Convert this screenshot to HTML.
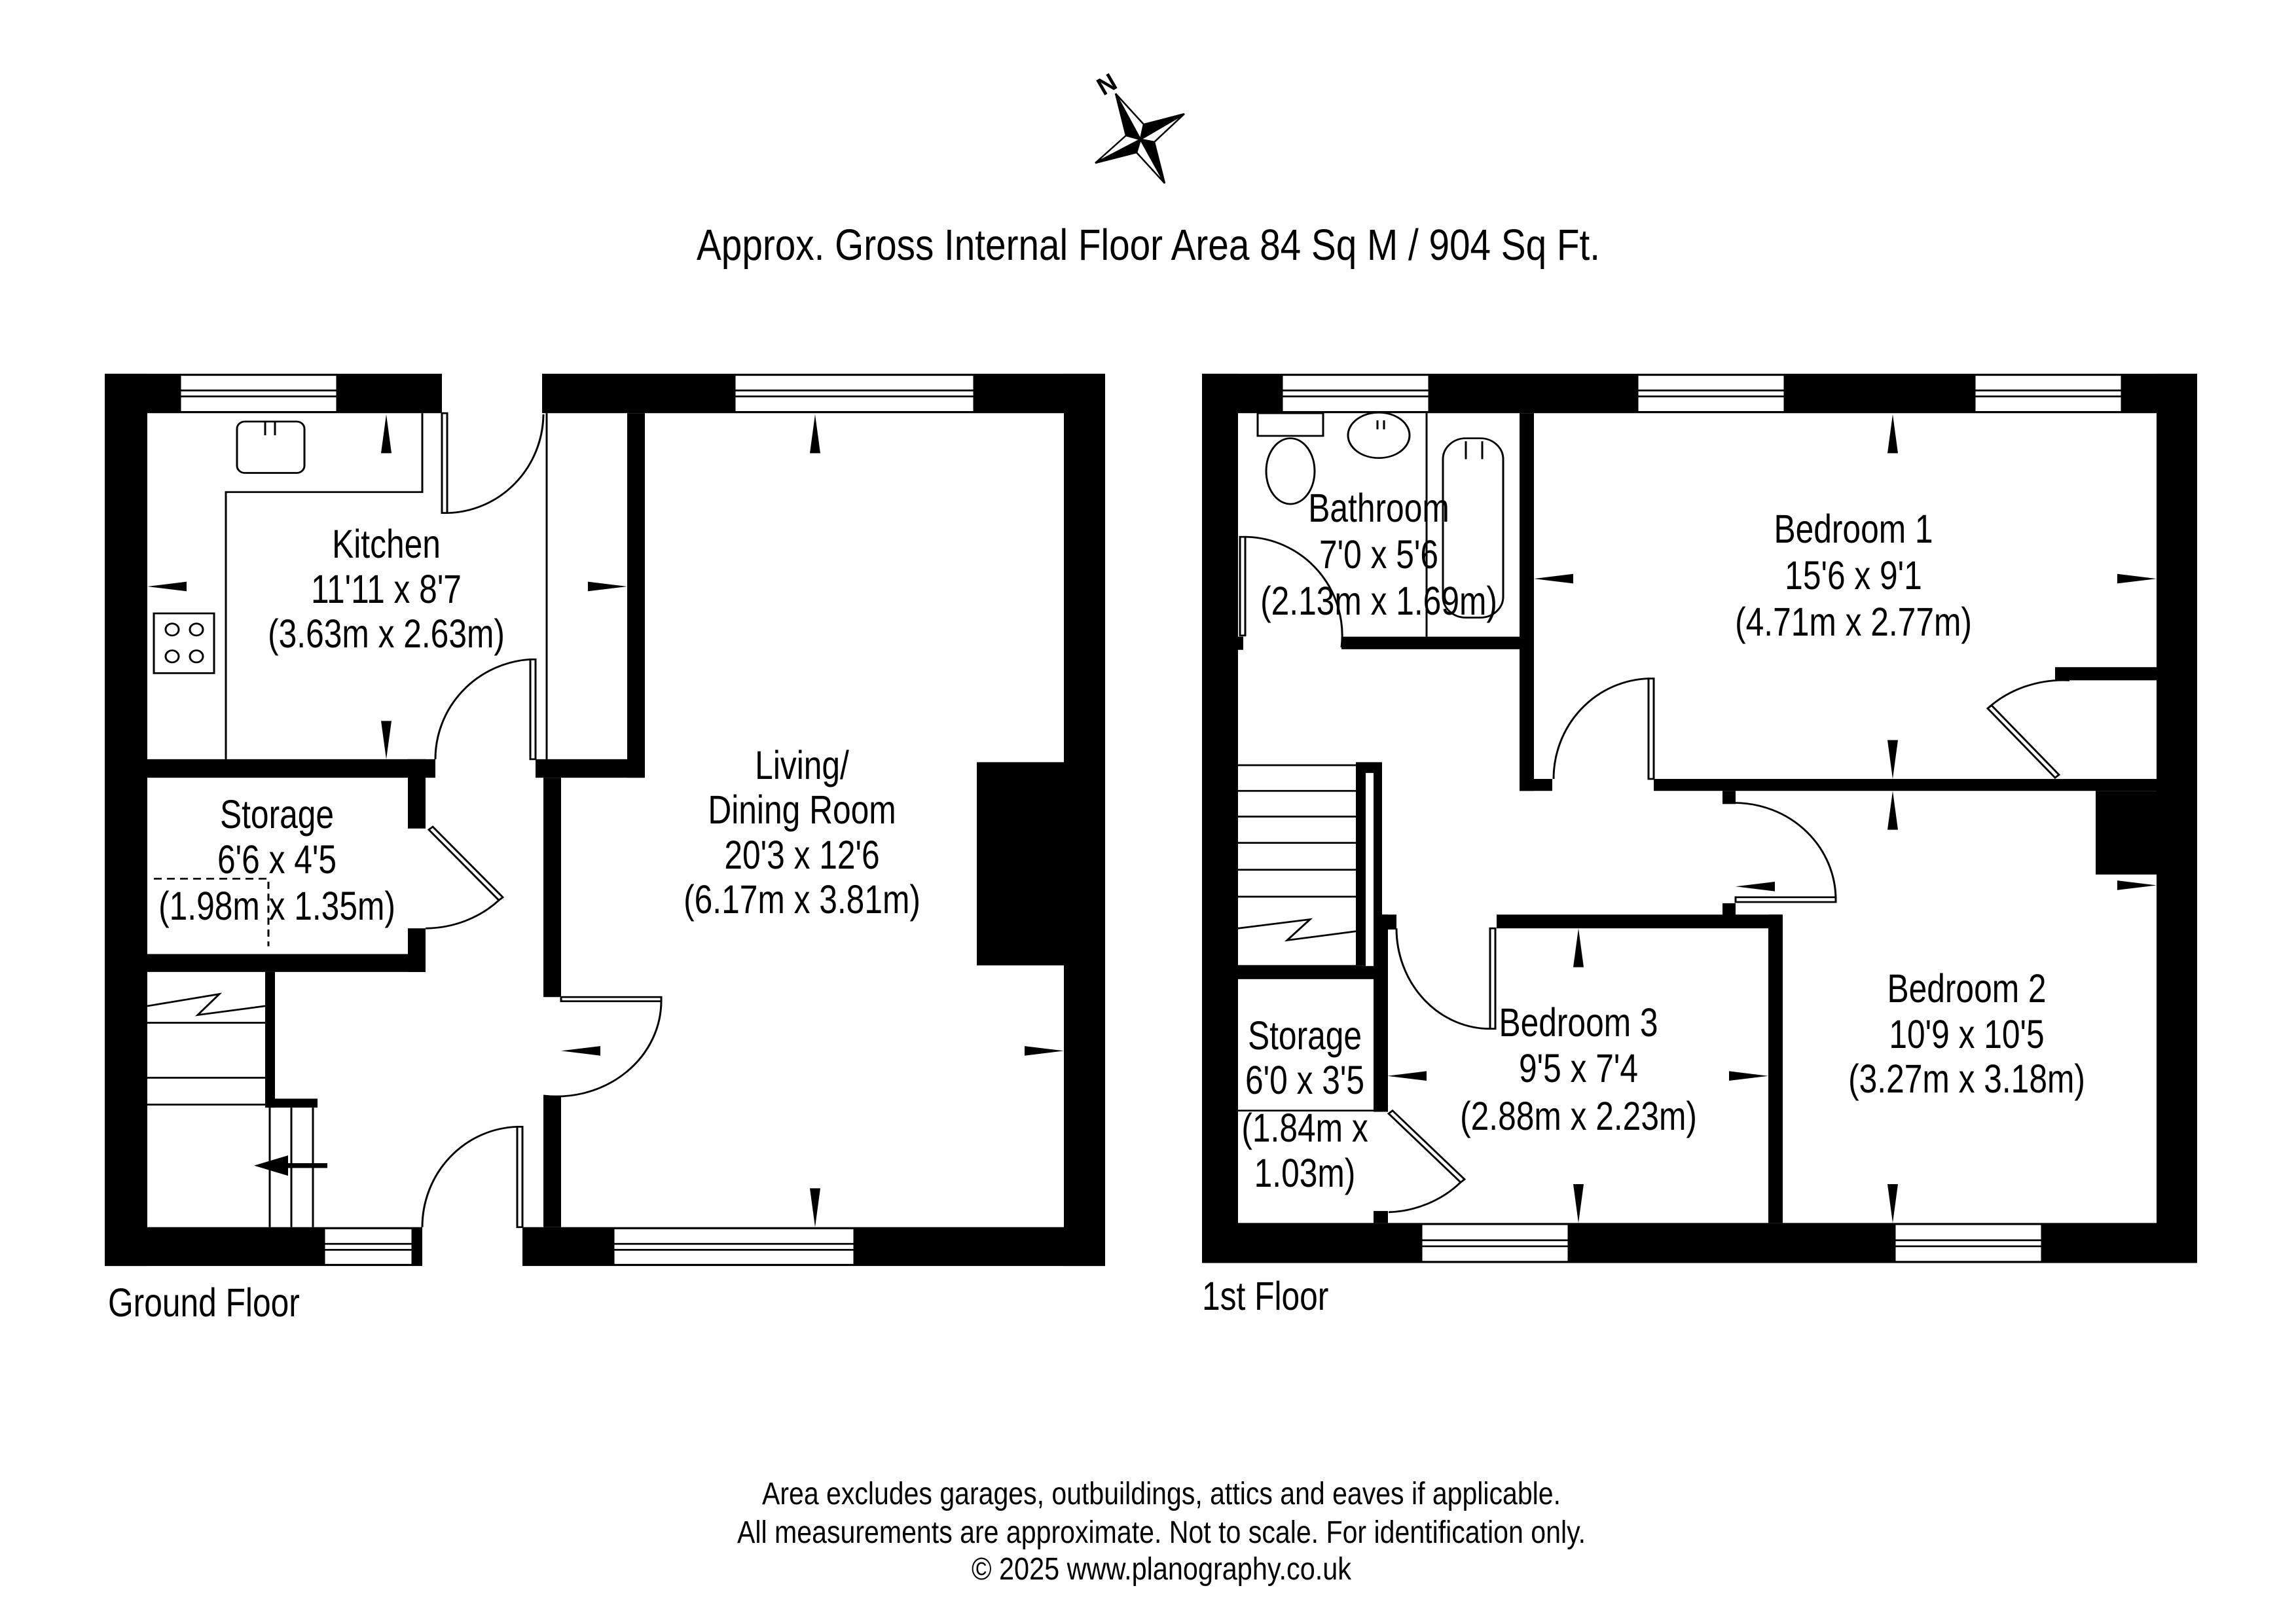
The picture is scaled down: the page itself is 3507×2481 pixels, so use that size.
<!DOCTYPE html>
<html><head><meta charset="utf-8"><style>
html,body{margin:0;padding:0;background:#fff;}
svg{display:block;}
text{font-family:"Liberation Sans",Arial,sans-serif;fill:#000;}
</style></head><body>
<svg width="3507" height="2481" viewBox="0 0 3507 2481" xmlns="http://www.w3.org/2000/svg">
<rect width="3507" height="2481" fill="#fff"/>

<!-- Compass -->
<g stroke="#000" stroke-width="2.5" stroke-linejoin="miter">
<polygon points="1704,143 1742,213 1720,207" fill="#000"/>
<polygon points="1704,143 1747,190 1742,213" fill="#fff"/>
<polygon points="1809,174 1742,213 1747,190" fill="#000"/>
<polygon points="1809,174 1763,217 1742,213" fill="#fff"/>
<polygon points="1779,280 1742,213 1763,217" fill="#000"/>
<polygon points="1779,280 1736,233 1742,213" fill="#fff"/>
<polygon points="1673,249 1742,213 1736,233" fill="#000"/>
<polygon points="1673,249 1720,207 1742,213" fill="#fff"/>
</g>
<text x="1697" y="140" font-size="38" font-weight="bold" transform="rotate(-30 1697 140)" text-anchor="middle">N</text>

<text x="1064" y="397" font-size="67" textLength="1380" lengthAdjust="spacingAndGlyphs">Approx. Gross Internal Floor Area 84 Sq M / 904 Sq Ft.</text>

<!-- GROUND FLOOR -->
<g transform="translate(150,560) scale(1,0.913)">
<g fill="#000">
<rect x="10" y="12" width="515" height="66"/>
<rect x="678" y="12" width="860" height="66"/>
<rect x="10" y="12" width="65" height="1493"/>
<rect x="1475" y="12" width="63" height="1493"/>
<rect x="10" y="1440" width="485" height="65"/>
<rect x="648" y="1440" width="890" height="65"/>
<rect x="75" y="657" width="440" height="31"/>
<rect x="473" y="657" width="27" height="116"/>
<rect x="473" y="940" width="27" height="73"/>
<rect x="75" y="983" width="425" height="30"/>
<rect x="255" y="1013" width="15" height="227"/>
<rect x="255" y="1225" width="80" height="15"/>
<rect x="808" y="78" width="27" height="610"/>
<rect x="668" y="657" width="167" height="31"/>
<rect x="680" y="688" width="27" height="367"/>
<rect x="680" y="1220" width="27" height="220"/>
<rect x="1342" y="662" width="133" height="340"/>
</g>
<g fill="#fff" stroke="#000" stroke-width="3">
<rect x="125" y="14" width="240" height="62"/><line x1="125" y1="40" x2="365" y2="40"/><line x1="125" y1="50" x2="365" y2="50"/>
<rect x="972" y="14" width="366" height="62"/><line x1="972" y1="40" x2="1338" y2="40"/><line x1="972" y1="50" x2="1338" y2="50"/>
<rect x="345" y="1442" width="135" height="61"/><line x1="345" y1="1468" x2="480" y2="1468"/><line x1="345" y1="1478" x2="480" y2="1478"/>
<rect x="787" y="1442" width="368" height="61"/><line x1="787" y1="1468" x2="1155" y2="1468"/><line x1="787" y1="1478" x2="1155" y2="1478"/>
<rect x="525" y="78" width="8" height="167"/>
<rect x="660" y="490" width="8" height="167"/>
<rect x="707" y="1055" width="153" height="7"/>
<rect x="640" y="1272" width="8" height="168"/>
<polygon points="505,775 511,770 618,888 612,893"/>
<rect x="212" y="92" width="103" height="86" rx="12"/>
<rect x="85" y="413" width="92" height="100"/>
<circle cx="113" cy="440" r="10"/><circle cx="150" cy="440" r="10"/><circle cx="113" cy="485" r="10"/><circle cx="150" cy="485" r="10"/>
</g>
<g fill="none" stroke="#000" stroke-width="3">
<path d="M533,245 A150,167 0 0 0 680,80"/>
<path d="M660,490 A155,167 0 0 0 515,657"/>
<path d="M612,893 A160,160 0 0 1 500,940"/>
<path d="M860,1060 A160,160 0 0 1 680,1220"/>
<path d="M640,1272 A150,168 0 0 0 495,1440"/>
<line x1="685" y1="78" x2="685" y2="657"/>
<polyline points="195,657 195,210 495,210 495,78"/>
<line x1="255" y1="92" x2="255" y2="115"/><line x1="270" y1="92" x2="270" y2="115"/>
<line x1="75" y1="1098" x2="255" y2="1098"/>
<line x1="75" y1="1190" x2="255" y2="1190"/>
<line x1="75" y1="1235" x2="255" y2="1235"/>
<polyline points="75,1070 185,1050 152,1085 255,1070"/>
<line x1="262" y1="1240" x2="262" y2="1440"/><line x1="295" y1="1240" x2="295" y2="1440"/><line x1="328" y1="1240" x2="328" y2="1440"/>
<path d="M85,857 H260 V970" stroke-dasharray="12,8"/>
</g>
<line x1="285" y1="1337" x2="350" y2="1337" stroke="#000" stroke-width="8"/>
<g fill="#000">
<polygon points="238,1337 290,1320 290,1354"/>
<polygon points="440,80 432,145 448,145"/>
<polygon points="75,368 135,360 135,376"/>
<polygon points="808,368 748,360 748,376"/>
<polygon points="440,657 432,593 448,593"/>
<polygon points="1095,80 1087,145 1103,145"/>
<polygon points="1095,1440 1087,1375 1103,1375"/>
<polygon points="707,1145 767,1137 767,1153"/>
<polygon points="1475,1145 1415,1137 1415,1153"/>
</g>
</g>

<!-- FIRST FLOOR -->
<g transform="translate(1836,560) scale(1,0.913)">
<g fill="#000">
<rect x="0" y="12" width="1520" height="66"/>
<rect x="0" y="12" width="55" height="1488"/>
<rect x="1458" y="12" width="62" height="1488"/>
<rect x="0" y="1433" width="1520" height="67"/>
<rect x="213" y="452" width="290" height="21"/>
<rect x="485" y="78" width="22" height="632"/>
<rect x="55" y="452" width="8" height="22"/>
<rect x="485" y="690" width="50" height="20"/>
<rect x="690" y="690" width="768" height="20"/>
<rect x="1303" y="503" width="155" height="22"/>
<rect x="1365" y="710" width="93" height="140"/>
<rect x="795" y="710" width="20" height="22"/>
<rect x="795" y="898" width="20" height="20"/>
<rect x="450" y="917" width="435" height="23"/>
<rect x="865" y="917" width="22" height="516"/>
<rect x="235" y="662" width="40" height="341"/>
<rect x="55" y="1003" width="210" height="22"/>
<rect x="262" y="917" width="22" height="330"/>
<rect x="262" y="1413" width="22" height="20"/>
<rect x="275" y="917" width="22" height="25"/>
</g>
<rect x="250" y="680" width="12" height="323" fill="#fff"/>
<g fill="#fff" stroke="#000" stroke-width="3">
<rect x="122" y="14" width="225" height="62"/><line x1="122" y1="40" x2="347" y2="40"/><line x1="122" y1="50" x2="347" y2="50"/>
<rect x="665" y="14" width="225" height="62"/><line x1="665" y1="40" x2="890" y2="40"/><line x1="665" y1="50" x2="890" y2="50"/>
<rect x="1180" y="14" width="225" height="62"/><line x1="1180" y1="40" x2="1405" y2="40"/><line x1="1180" y1="50" x2="1405" y2="50"/>
<rect x="335" y="1435" width="225" height="63"/><line x1="335" y1="1462" x2="560" y2="1462"/><line x1="335" y1="1472" x2="560" y2="1472"/>
<rect x="1058" y="1435" width="225" height="63"/><line x1="1058" y1="1462" x2="1283" y2="1462"/><line x1="1058" y1="1472" x2="1283" y2="1472"/>
<rect x="58" y="285" width="8" height="165"/>
<rect x="682" y="522" width="8" height="168"/>
<rect x="815" y="888" width="153" height="8"/>
<rect x="440" y="940" width="8" height="168"/>
<polygon points="1200,572 1206,567 1309,683 1303,688"/>
<polygon points="285,1250 291,1245 401,1360 395,1365"/>
<rect x="85" y="78" width="100" height="38"/>
<ellipse cx="135" cy="175" rx="37" ry="55"/>
<ellipse cx="270" cy="115" rx="47" ry="38"/>
<rect x="368" y="120" width="92" height="300" rx="35"/>
</g>
<g fill="none" stroke="#000" stroke-width="3">
<path d="M66,285 A150,165 0 0 1 213,470"/>
<path d="M682,522 A150,168 0 0 0 537,690"/>
<path d="M1200,572 A165,165 0 0 1 1325,525"/>
<path d="M968,892 A155,162 0 0 0 815,730"/>
<path d="M440,1108 A143,168 0 0 1 297,940"/>
<path d="M395,1365 A160,160 0 0 1 285,1415"/>
<line x1="343" y1="78" x2="343" y2="452"/>
<line x1="55" y1="1245" x2="262" y2="1245"/>
<line x1="268" y1="90" x2="268" y2="105"/><line x1="278" y1="90" x2="278" y2="105"/>
<line x1="403" y1="125" x2="403" y2="155"/><line x1="428" y1="125" x2="428" y2="155"/>
<line x1="55" y1="667" x2="235" y2="667"/>
<line x1="55" y1="710" x2="235" y2="710"/>
<line x1="55" y1="753" x2="235" y2="753"/>
<line x1="55" y1="797" x2="235" y2="797"/>
<line x1="55" y1="842" x2="235" y2="842"/>
<line x1="55" y1="887" x2="235" y2="887"/>
<line x1="55" y1="1003" x2="235" y2="1003"/>
<polyline points="55,940 165,925 130,960 235,945"/>
</g>
<g fill="#000">
<polygon points="1055,80 1047,145 1063,145"/>
<polygon points="1055,690 1047,625 1063,625"/>
<polygon points="507,355 567,347 567,363"/>
<polygon points="1458,355 1398,347 1398,363"/>
<polygon points="1055,710 1047,775 1063,775"/>
<polygon points="1458,868 1398,860 1398,876"/>
<polygon points="1055,1433 1047,1368 1063,1368"/>
<polygon points="575,940 567,1005 583,1005"/>
<polygon points="575,1433 567,1368 583,1368"/>
<polygon points="283,1187 343,1179 343,1195"/>
<polygon points="865,1187 805,1179 805,1195"/>
<polygon points="815,870 875,862 875,878"/>
</g>
</g>

<!-- Room labels -->
<g font-size="61" text-anchor="middle">
<text transform="translate(590,852) scale(0.815,1)">Kitchen</text>
<text transform="translate(590,921) scale(0.815,1)">11'11 x 8'7</text>
<text transform="translate(590,989) scale(0.815,1)">(3.63m x 2.63m)</text>
<text transform="translate(1225,1190) scale(0.815,1)">Living/</text>
<text transform="translate(1225,1258) scale(0.815,1)">Dining Room</text>
<text transform="translate(1225,1327) scale(0.815,1)">20'3 x 12'6</text>
<text transform="translate(1225,1395) scale(0.815,1)">(6.17m x 3.81m)</text>
<text transform="translate(423,1265) scale(0.815,1)">Storage</text>
<text transform="translate(423,1334) scale(0.815,1)">6'6 x 4'5</text>
<text transform="translate(423,1405) scale(0.815,1)">(1.98m x 1.35m)</text>
<text transform="translate(2106,797) scale(0.815,1)">Bathroom</text>
<text transform="translate(2106,868) scale(0.815,1)">7'0 x 5'6</text>
<text transform="translate(2106,939) scale(0.815,1)">(2.13m x 1.69m)</text>
<text transform="translate(2831,829) scale(0.815,1)">Bedroom 1</text>
<text transform="translate(2831,900) scale(0.815,1)">15'6 x 9'1</text>
<text transform="translate(2831,971) scale(0.815,1)">(4.71m x 2.77m)</text>
<text transform="translate(3004,1531) scale(0.815,1)">Bedroom 2</text>
<text transform="translate(3004,1601) scale(0.815,1)">10'9 x 10'5</text>
<text transform="translate(3004,1669) scale(0.815,1)">(3.27m x 3.18m)</text>
<text transform="translate(2411,1583) scale(0.815,1)">Bedroom 3</text>
<text transform="translate(2411,1653) scale(0.815,1)">9'5 x 7'4</text>
<text transform="translate(2411,1726) scale(0.815,1)">(2.88m x 2.23m)</text>
<text transform="translate(1993,1603) scale(0.815,1)">Storage</text>
<text transform="translate(1993,1671) scale(0.815,1)">6'0 x 3'5</text>
<text transform="translate(1993,1744) scale(0.815,1)">(1.84m x</text>
<text transform="translate(1993,1813) scale(0.815,1)">1.03m)</text>
</g>
<text transform="translate(165,2011) scale(0.815,1)" font-size="61">Ground Floor</text>
<text transform="translate(1836,2001) scale(0.815,1)" font-size="61">1st Floor</text>

<g font-size="48" text-anchor="middle">
<text x="1774" y="2298" textLength="1220" lengthAdjust="spacingAndGlyphs">Area excludes garages, outbuildings, attics and eaves if applicable.</text>
<text x="1774" y="2357" textLength="1296" lengthAdjust="spacingAndGlyphs">All measurements are approximate. Not to scale. For identification only.</text>
<text x="1774" y="2413" textLength="580" lengthAdjust="spacingAndGlyphs">© 2025 www.planography.co.uk</text>
</g>
</svg>
</body></html>
